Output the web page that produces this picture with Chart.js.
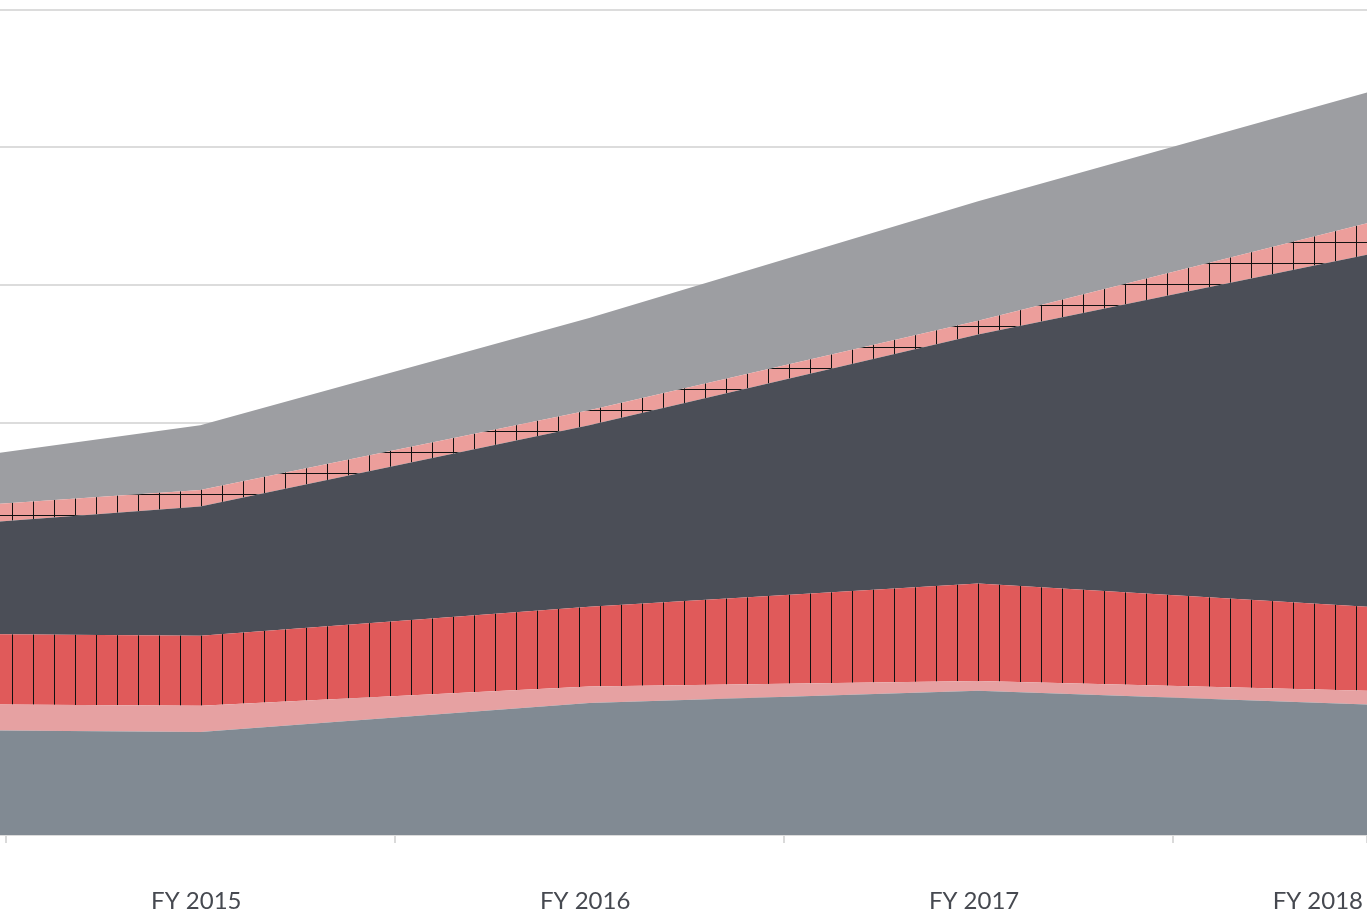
<!DOCTYPE html>
<html>
<head>
<meta charset="utf-8">
<script src="https://cdn.jsdelivr.net/npm/chart.js@4"></script>
<style>
  html, body { margin: 0; padding: 0; background: #fff; }
  #wrap { width: 1367px; height: 919px; }
</style>
</head>
<body>
<div id="wrap"><canvas id="c" width="1367" height="919"></canvas></div>
<script>
// x positions: first entry is the left edge of the visible window, then fiscal years
var years = [2014.485, 2015, 2016, 2017, 2018];
var tickYears = [2014.5, 2015, 2015.5, 2016, 2016.5, 2017, 2017.5, 2018];

// stacked series, bottom to top
var baseGray  = [0.76, 0.75, 0.96, 1.05, 0.95];
var lightPink = [0.19, 0.19, 0.12, 0.07, 0.10];
var redBand   = [0.51, 0.51, 0.58, 0.71, 0.61];
var darkGray  = [0.82, 0.94, 1.32, 1.81, 2.56];
var gridPink  = [0.13, 0.12, 0.11, 0.10, 0.23];
var topGray   = [0.37, 0.47, 0.67, 0.87, 0.95];

function pts(vals) {
    return vals.map(function (v, i) { return {x: years[i], y: v}; });
}

function makePattern(bg, vertical, horizontal) {
    var size = 21,
        cv = document.createElement('canvas');
    cv.width = size;
    cv.height = size;
    var g = cv.getContext('2d');
    g.fillStyle = bg;
    g.fillRect(0, 0, size, size);
    g.fillStyle = '#111';
    if (vertical) g.fillRect(12, 0, 1, size);
    if (horizontal) g.fillRect(0, 11, size, 1);
    return g.createPattern(cv, 'repeat');
}

var ctx = document.getElementById('c').getContext('2d');

function area(vals, fill, first) {
    return {
        data: pts(vals),
        backgroundColor: fill,
        borderWidth: 0,
        pointRadius: 0,
        tension: 0,
        fill: first ? 'origin' : '-1'
    };
}

new Chart(ctx, {
    type: 'line',
    data: {
        datasets: [
            area(baseGray, '#818a93', true),
            area(lightPink, '#e6a1a2'),
            area(redBand, makePattern('#e05a5a', true, false)),
            area(darkGray, '#4b4e57'),
            area(gridPink, makePattern('#ec9e9b', true, true)),
            area(topGray, '#9d9ea2')
        ]
    },
    options: {
        responsive: false,
        animation: false,
        layout: {padding: {top: 10, left: 0, right: 0, bottom: 0}},
        plugins: {legend: {display: false}, tooltip: {enabled: false}},
        scales: {
            x: {
                type: 'linear',
                min: years[0],
                max: 2018,
                afterBuildTicks: function (axis) {
                    axis.ticks = tickYears.map(function (v) { return {value: v}; });
                },
                afterFit: function (axis) {
                    axis.height = 84;
                    axis.paddingLeft = 0;
                    axis.paddingRight = 0;
                },
                border: {display: false},
                grid: {
                    drawOnChartArea: false,
                    tickLength: 8,
                    lineWidth: 2,
                    color: function (c) {
                        var v = c.tick && c.tick.value;
                        return (v % 1 === 0 && v !== 2018) ? 'rgba(0,0,0,0)' : '#dadada';
                    }
                },
                ticks: {
                    autoSkip: false,
                    maxRotation: 0,
                    align: 'inner',
                    padding: 44,
                    labelOffset: -4,
                    color: '#464950',
                    font: {family: 'Lato', size: 24},
                    callback: function (v) {
                        return v % 1 === 0 ? 'FY ' + v : '';
                    }
                }
            },
            y: {
                stacked: true,
                min: 0,
                max: 6,
                afterFit: function (axis) {
                    axis.width = 0;
                },
                border: {display: false},
                grid: {drawTicks: false, color: '#dcdcdc', lineWidth: 2},
                ticks: {display: false, stepSize: 1}
            }
        }
    }
});
</script>
</body>
</html>
